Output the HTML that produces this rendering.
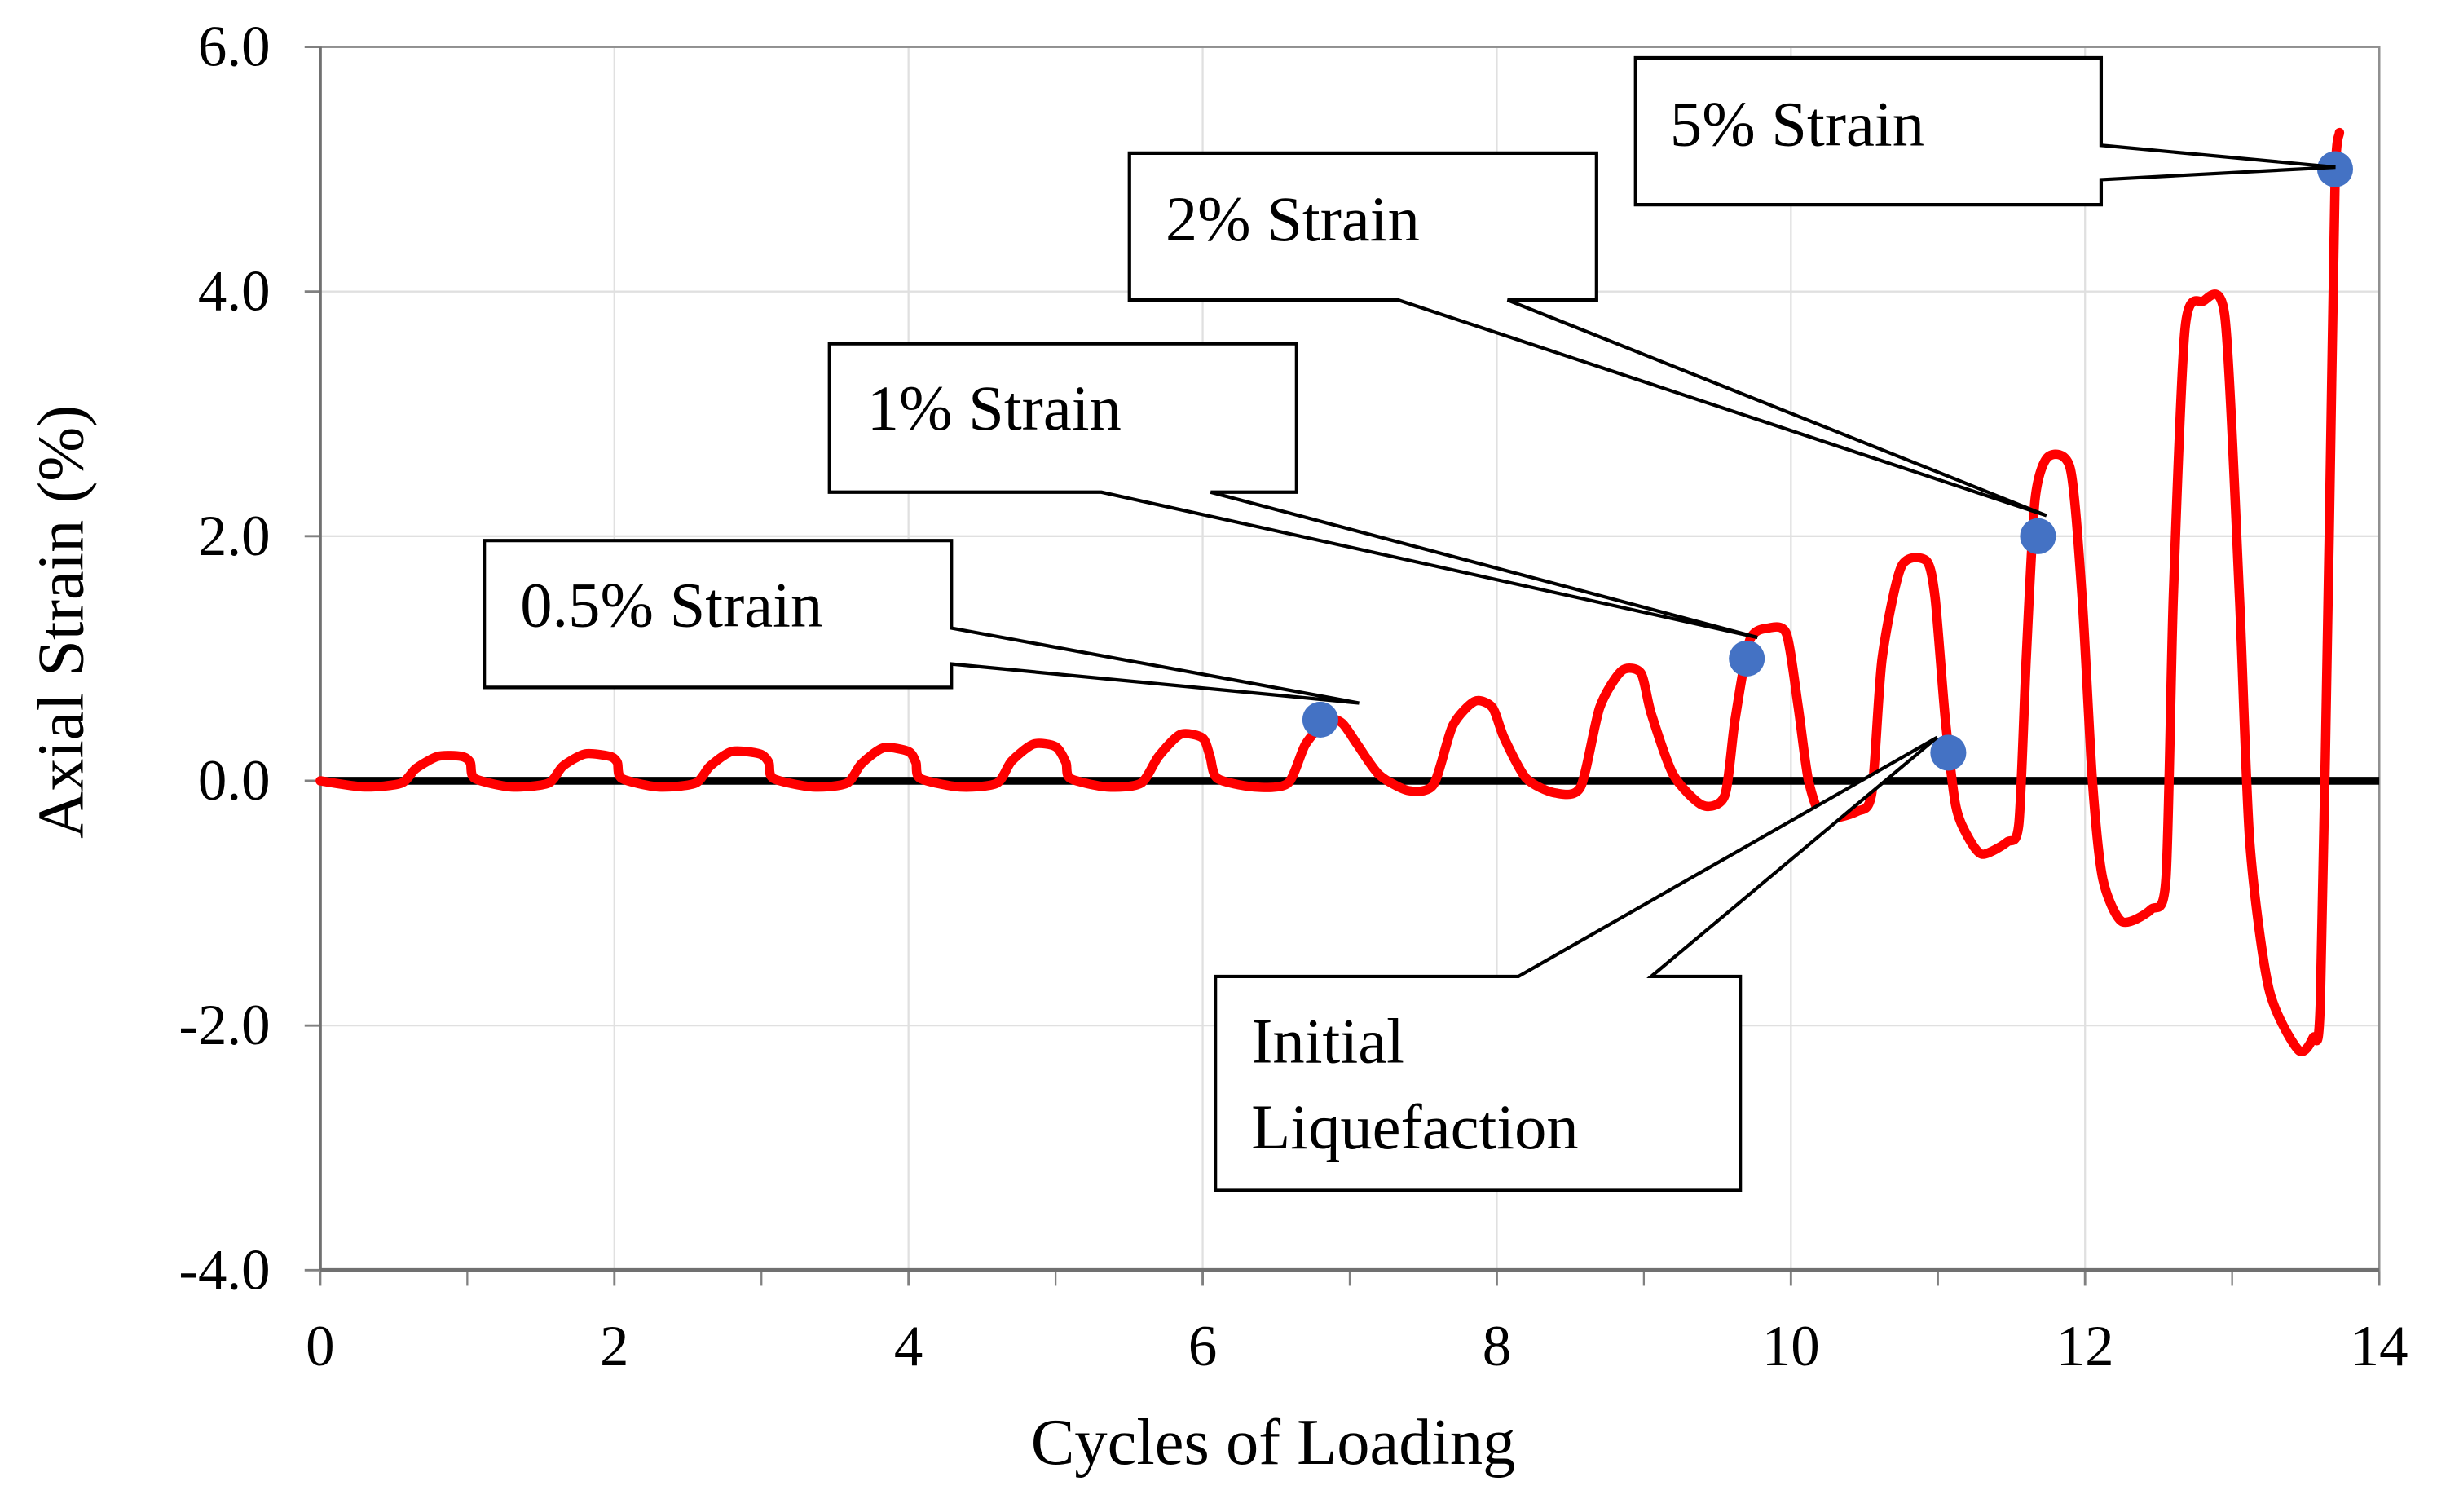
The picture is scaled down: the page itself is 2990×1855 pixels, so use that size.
<!DOCTYPE html>
<html><head><meta charset="utf-8"><style>
html,body{margin:0;padding:0;background:#fff}
svg{display:block}
text{font-family:"Liberation Serif",serif;fill:#000}
</style></head><body>
<svg id="chart" width="2990" height="1855" viewBox="0 0 1560 967.8" xmlns="http://www.w3.org/2000/svg">
<g id="grid"></g>
<g id="axes"></g>
<g id="series"></g>
<g id="callouts"></g>
<text x="815" y="937" font-size="42" text-anchor="middle">Cycles of Loading</text>
<text transform="translate(53,398) rotate(-90)" font-size="42" text-anchor="middle">Axial Strain (%)</text>
</svg>
<script>
const xTicks=[0,2,4,6,8,10,12,14];
const yTicks=[-4,-2,0,2,4,6];
const yTickLabels=["-4.0","-2.0","0.0","2.0","4.0","6.0"];
const curveX=[0,0.3,0.55,0.65,0.8,0.96,1.02,1.05,1.3,1.55,1.65,1.8,1.97,2.02,2.05,2.3,2.55,2.65,2.8,2.99,3.05,3.08,3.35,3.58,3.68,3.83,4.0,4.05,4.08,4.35,4.6,4.7,4.85,5.0,5.07,5.1,5.35,5.58,5.7,5.85,6.0,6.05,6.1,6.35,6.58,6.7,6.85,6.95,7.05,7.2,7.4,7.57,7.7,7.85,7.97,8.05,8.2,8.4,8.57,8.7,8.85,8.98,9.05,9.2,9.4,9.55,9.62,9.72,9.85,9.97,10.05,10.12,10.22,10.45,10.55,10.62,10.75,10.92,10.98,11.05,11.12,11.2,11.3,11.47,11.55,11.6,11.66,11.75,11.9,11.98,12.05,12.12,12.25,12.45,12.55,12.6,12.68,12.8,12.95,13.05,13.12,13.25,13.45,13.55,13.6,13.66,13.7,13.73];
const curveY=[0,-0.05,-0.02,0.1,0.2,0.2,0.15,0.02,-0.05,-0.02,0.12,0.22,0.2,0.15,0.02,-0.05,-0.02,0.12,0.24,0.22,0.15,0.02,-0.05,-0.02,0.14,0.27,0.24,0.15,0.02,-0.05,-0.02,0.16,0.3,0.28,0.15,0.02,-0.05,-0.02,0.2,0.38,0.35,0.2,0.02,-0.05,-0.02,0.3,0.5,0.47,0.3,0.05,-0.08,-0.03,0.45,0.65,0.6,0.35,0.02,-0.1,-0.05,0.6,0.9,0.88,0.55,0.05,-0.2,-0.12,0.5,1.15,1.25,1.2,0.6,0.0,-0.3,-0.25,-0.1,1.0,1.75,1.8,1.5,0.5,-0.2,-0.45,-0.6,-0.5,-0.35,1.0,2.3,2.65,2.55,1.5,0.0,-0.8,-1.15,-1.05,-0.8,1.5,3.7,3.92,3.8,1.5,-0.5,-1.7,-2.2,-2.1,-1.8,2.0,4.9,5.3,5.45];
const markerX=[6.8,9.7,11.07,11.68,13.7];
const markerY=[0.5,1.0,0.23,2.0,5.0];
const X0=205,X1=1523,Y0=813,Y1=30;
const sx=v=>X0+(v-0)/(14-0)*(X1-X0);
const sy=v=>Y0-(v-(-4))/(6-(-4))*(Y0-Y1);
const NS="http://www.w3.org/2000/svg";
function mk(tag,parent,attrs){const e=document.createElementNS(NS,tag);for(const k in attrs)e.setAttribute(k,attrs[k]);parent.appendChild(e);return e;}
const grid=document.getElementById('grid'),axes=document.getElementById('axes'),series=document.getElementById('series'),callouts=document.getElementById('callouts');
xTicks.forEach(t=>{if(t>0&&t<14){const l=mk('line',grid,{x1:sx(t),x2:sx(t),y1:Y1,y2:Y0,stroke:'#e0e0e0','stroke-width':1.2});

}
const tx=mk('text',axes,{x:sx(t),y:874,'font-size':37,'text-anchor':'middle'});tx.textContent=t;


mk('line',axes,{x1:sx(t),x2:sx(t),y1:Y0,y2:Y0+10,stroke:'#808080','stroke-width':1.5});});
for(let t=1;t<14;t+=2){mk('line',axes,{x1:sx(t),x2:sx(t),y1:Y0,y2:Y0+10,stroke:'#808080','stroke-width':1.2});}
yTicks.forEach((t,i)=>{if(t>-4&&t<6){const l=mk('line',grid,{x1:X0,x2:X1,y1:sy(t),y2:sy(t),stroke:'#e0e0e0','stroke-width':1.2});

}
const tx=mk('text',axes,{x:173,y:sy(t)+12,'font-size':37,'text-anchor':'end'});tx.textContent=yTickLabels[i];


mk('line',axes,{x1:X0-10,x2:X0,y1:sy(t),y2:sy(t),stroke:'#808080','stroke-width':1.5});});
const frame=mk('rect',axes,{x:X0,y:Y1,width:X1-X0,height:Y0-Y1,fill:'none',stroke:'#909090','stroke-width':1.5});


mk('line',axes,{x1:X0,x2:X1,y1:Y0,y2:Y0,stroke:'#707070','stroke-width':2.5});
mk('line',axes,{x1:X0,x2:X0,y1:Y1,y2:Y0,stroke:'#707070','stroke-width':2});
const zl=mk('line',axes,{x1:X0,x2:X1,y1:sy(0),y2:sy(0),stroke:'#000','stroke-width':5});


const P=curveX.map((x,i)=>[sx(x),sy(curveY[i])]);
let d='M'+P[0][0]+','+P[0][1];
const k=8;
for(let i=0;i<P.length-1;i++){const p0=P[Math.max(0,i-1)],p1=P[i],p2=P[i+1],p3=P[Math.min(P.length-1,i+2)];
const c1=[p1[0]+(p2[0]-p0[0])/k,p1[1]+(p2[1]-p0[1])/k],c2=[p2[0]-(p3[0]-p1[0])/k,p2[1]-(p3[1]-p1[1])/k];
d+=' C'+c1[0]+','+c1[1]+' '+c2[0]+','+c2[1]+' '+p2[0]+','+p2[1];}
const path=mk('path',series,{d:d,fill:'none',stroke:'#ff0000','stroke-width':6,'stroke-linejoin':'round','stroke-linecap':'round'});


const boxes=[
 {pts:"310,346 609,346 609,402 870,450 609,425 609,440 310,440",lines:["0.5% Strain"],tx:333,ty:401,name:'callout-0-5-strain'},
 {pts:"531,220 830,220 830,315 775,315 1125,408 705,315 531,315",lines:["1% Strain"],tx:555,ty:275,name:'callout-1-strain'},
 {pts:"723,98 1022,98 1022,192 965,192 1310,330 895,192 723,192",lines:["2% Strain"],tx:746,ty:154,name:'callout-2-strain'},
 {pts:"1047,37 1345,37 1345,93 1495,107 1345,115 1345,131 1047,131",lines:["5% Strain"],tx:1069,ty:93,name:'callout-5-strain'},
 {pts:"778,625 972,625 1240,472 1057,625 1114,625 1114,762 778,762",lines:["Initial","Liquefaction"],tx:801,ty:680,name:'callout-initial-liquefaction'}];
boxes.forEach(b=>{const g=mk('g',callouts,{});


mk('polygon',g,{points:b.pts,fill:'#fff',stroke:'#000','stroke-width':2.2,'stroke-linejoin':'miter'});
b.lines.forEach((s,i)=>{const t=mk('text',g,{x:b.tx,y:b.ty+i*55,'font-size':41});t.textContent=s;});});
markerX.forEach((x,i)=>{const c=mk('circle',series,{cx:sx(x),cy:sy(markerY[i]),r:11.5,fill:'#4472c4'});

});
</script>
</body></html>
